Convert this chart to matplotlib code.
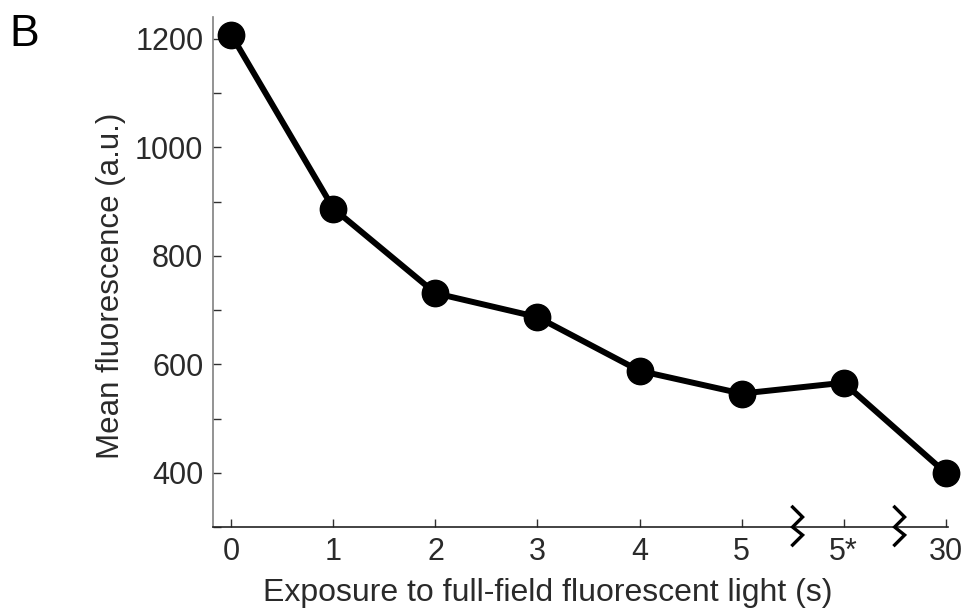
import matplotlib
matplotlib.use("Agg")
import matplotlib.pyplot as plt
import matplotlib.transforms as mtransforms
import numpy as np

plt.rcParams['font.family'] = ['Liberation Sans', 'DejaVu Sans']

# Exposure steps and mean fluorescence
categories = ["0", "1", "2", "3", "4", "5", "5*", "30"]
fluorescence = [1207, 887, 731, 687, 588, 546, 566, 400]
y_major = [400, 600, 800, 1000, 1200]
y_minor = [300, 500, 700, 900, 1100]
break_positions = [5.5, 6.5]

fig = plt.figure(figsize=(9.67, 6.10), dpi=100)
ax = fig.add_axes([0.2203, 0.136, 0.7597, 0.836])

x = np.arange(len(categories))
ax.plot(x, fluorescence, color="black", lw=4.3, marker="o", ms=19,
        markerfacecolor="black", markeredgecolor="black", solid_joinstyle="round",
        clip_on=False, zorder=3)

ax.set_xlim(-0.18, 7.02)
ax.set_ylim(300, 1240)
ax.set_xticks(x)
ax.set_xticklabels(categories)
ax.set_yticks(y_major)
ax.set_yticks(y_minor, minor=True)

for side in ("top", "right"):
    ax.spines[side].set_visible(False)
ax.spines["left"].set_color("#808080")
ax.spines["left"].set_linewidth(1.2)
ax.spines["bottom"].set_color("#222222")
ax.spines["bottom"].set_linewidth(1.2)

ax.tick_params(axis="both", which="both", direction="in", length=6, width=1.0,
               labelsize=22, labelcolor="#2a2a2a", pad=7, color="#303030")
ax.set_xlabel("Exposure to full-field fluorescent light (s)", fontsize=23,
              color="#2a2a2a")
ax.set_ylabel("Mean fluorescence (a.u.)", fontsize=22.5, color="#2a2a2a")
ax.xaxis.set_label_coords(0.456, -0.099)
ax.yaxis.set_label_coords(-0.118, 0.474)

# Axis-break zigzags on the x axis (offsets in pixels from the crossing point)
trans = mtransforms.blended_transform_factory(ax.transData, ax.transAxes)
px = np.array([0, 10, 0, 10, 0])
py = np.array([20, 10, 0, -8, -18])
for bp in break_positions:
    base = trans.transform((bp, 0))
    ax.plot(base[0] + px, base[1] + py, color="black", lw=2.4, transform=None,
            clip_on=False, solid_joinstyle="miter", zorder=4)

fig.text(0.010, 0.925, "B", fontsize=32, color="black")

fig.savefig("out.png", dpi=100)
